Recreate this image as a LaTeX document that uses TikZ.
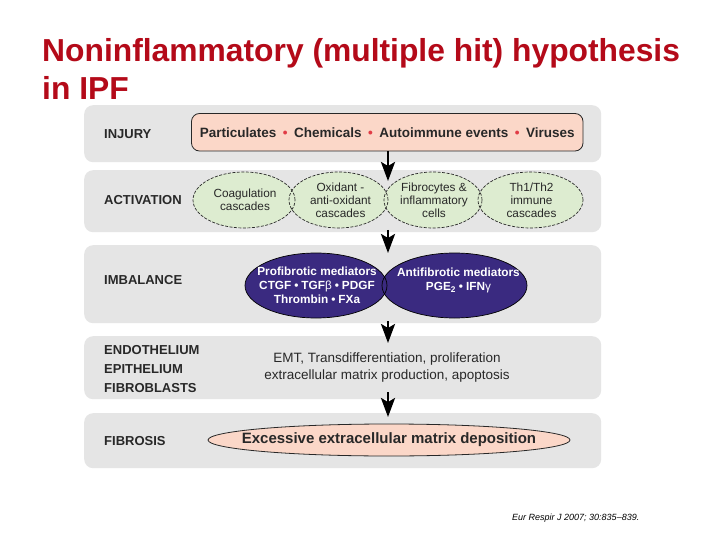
\documentclass[tikz,border=0pt]{standalone}
\usepackage{fontspec}
\setmainfont{Liberation Sans}
\usetikzlibrary{shapes.geometric,arrows.meta}
\definecolor{titlered}{RGB}{180,10,25}
\definecolor{panelgray}{RGB}{229,229,229}
\definecolor{pinkfill}{RGB}{251,215,200}
\definecolor{greenfill}{RGB}{221,236,208}
\definecolor{indigo}{RGB}{58,42,128}
\definecolor{dotred}{RGB}{225,60,70}
\definecolor{darktext}{RGB}{40,40,40}
\newcommand{\rdot}{\hspace{6.5pt}{\color{dotred}\textbullet}\hspace{6.5pt}}
\newcommand{\wdot}{\hspace{3pt}\textbullet\hspace{3pt}}
\begin{document}
\begin{tikzpicture}[x=1pt,y=-1pt,
  panel/.style={fill=panelgray, draw=none, rounded corners=9pt, anchor=north west, minimum width=517pt, inner sep=0pt},
  rowlabel/.style={anchor=west, align=left, inner sep=0pt, text=darktext, font=\bfseries\fontsize{13}{19}\selectfont},
  greenell/.style={ellipse, inner sep=0pt, minimum height=56pt, draw=darktext, line width=0.7pt, dash pattern=on 3pt off 1.5pt},
  greenfillonly/.style={ellipse, inner sep=0pt, minimum height=56pt, fill=greenfill},
  greentext/.style={align=center, inner sep=0pt, text=darktext, font=\fontsize{11.8}{12.8}\selectfont},
  darkell/.style={ellipse, inner sep=0pt, minimum height=65pt, draw=black, line width=0.7pt},
  darkfillonly/.style={ellipse, inner sep=0pt, minimum height=65pt, fill=indigo},
  darktextstyle/.style={align=center, inner sep=0pt, text=white, font=\bfseries\fontsize{11.8}{14.2}\selectfont},
  titlestyle/.style={anchor=base west, text=titlered, inner sep=0pt, font=\bfseries\fontsize{31.8}{36}\selectfont},
  bigarrow/.style={line width=2.5pt, -{Stealth[length=19pt,width=14pt,inset=4pt]}}
]
\useasboundingbox (0,0) rectangle (720,540);
\fill[white] (0,0) rectangle (720,540);

% title
\node[titlestyle] (title1) at (42,62) {Noninflammatory (multiple hit) hypothesis};
\node[titlestyle] (title2) at (42,99.5) {in IPF};

% panels
\node[panel, minimum height=57pt] (pinj) at (84,105) {};
\node[panel, minimum height=62pt] (pact) at (84,170) {};
\node[panel, minimum height=78pt] (pimb) at (84,245) {};
\node[panel, minimum height=63pt] (pend) at (84,336) {};
\node[panel, minimum height=55pt] (pfib) at (84,413) {};

% row labels
\node[rowlabel] (linj) at (104,134) {INJURY};
\node[rowlabel] (lact) at (104,200) {ACTIVATION};
\node[rowlabel] (limb) at (104,280) {IMBALANCE};
\node[rowlabel] (lend) at (104,369) {ENDOTHELIUM\\EPITHELIUM\\FIBROBLASTS};
\node[rowlabel] (lfib) at (104,441) {FIBROSIS};

% injury box
\node[fill=pinkfill, draw=darktext, line width=0.8pt, rounded corners=8pt, minimum width=391.5pt, minimum height=37.5pt, inner sep=0pt, text=darktext, font=\bfseries\fontsize{13.5}{16}\selectfont] (injury) at (387.25,132.25)
  {Particulates\rdot Chemicals\rdot Autoimmune events\rdot Viruses};

% activation ellipses: fills first, then dashed outlines, then text
\node[greenfillonly, minimum width=102pt] at (244,200) {};
\node[greenfillonly, minimum width=99pt] at (338.5,200) {};
\node[greenfillonly, minimum width=98pt] at (433,200) {};
\node[greenfillonly, minimum width=105pt] at (530.5,200) {};
\node[greenell, minimum width=102pt] (coag) at (244,200) {};
\node[greenell, minimum width=99pt] (oxid) at (338.5,200) {};
\node[greenell, minimum width=98pt] (fibro) at (433,200) {};
\node[greenell, minimum width=105pt] (th) at (530.5,200) {};
\node[greentext] (tcoag) at ([xshift=1pt]coag.center) {Coagulation\\cascades};
\node[greentext] (toxid) at ([xshift=2pt]oxid.center) {Oxidant -\\anti-oxidant\\cascades};
\node[greentext] (tfibro) at ([xshift=1pt]fibro.center) {Fibrocytes \&\\inflammatory\\cells};
\node[greentext] (tth) at ([xshift=1pt]th.center) {Th1/Th2\\immune\\cascades};

% imbalance ellipses
\node[darkfillonly, minimum width=145pt] at (454.5,285.5) {};
\node[darkfillonly, minimum width=142pt] at (316,285.5) {};
\node[darkell, minimum width=145pt] (anti) at (454.5,285.5) {};
\node[darkell, minimum width=142pt] (pro) at (316,285.5) {};
\node[darktextstyle] (tpro) at ([xshift=1pt]pro.center) {Profibrotic mediators\\CTGF\wdot TGF{\mdseries β}\wdot PDGF\\Thrombin\wdot FXa};
\node[darktextstyle, anchor=north] (tanti) at ([xshift=4pt,yshift=18pt]anti.center) {Antifibrotic mediators\\PGE\textsubscript{2}\wdot IFN{\mdseries γ}};

% cellular text
\node[align=center, text=darktext, font=\fontsize{13.5}{17}\selectfont] (cells) at (387,368) {EMT, Transdifferentiation, proliferation\\extracellular matrix production, apoptosis};

% fibrosis ellipse
\node[ellipse, fill=pinkfill, draw=darktext, line width=0.8pt, inner sep=0pt, minimum width=362pt, minimum height=32pt] (ecm) at (389,440) {};
\node[inner sep=0pt, text=darktext, font=\bfseries\fontsize{15}{18}\selectfont] (tecm) at (ecm.center) {Excessive extracellular matrix deposition};

% arrows
\coordinate (a1s) at (388,151); \coordinate (a1e) at (388,181);
\coordinate (a2s) at (388,230); \coordinate (a2e) at (388,253);
\coordinate (a3s) at (388,321); \coordinate (a3e) at (388,343);
\coordinate (a4s) at (388,392); \coordinate (a4e) at (388,417);
\draw[bigarrow] (a1s) -- (a1e);
\draw[bigarrow] (a2s) -- (a2e);
\draw[bigarrow] (a3s) -- (a3e);
\draw[bigarrow] (a4s) -- (a4e);

% citation
\node[anchor=base west, inner sep=0pt, font=\itshape\fontsize{9}{10}\selectfont] (cite) at (512,520) {Eur Respir J 2007; 30:835--839.};
\end{tikzpicture}
\end{document}
